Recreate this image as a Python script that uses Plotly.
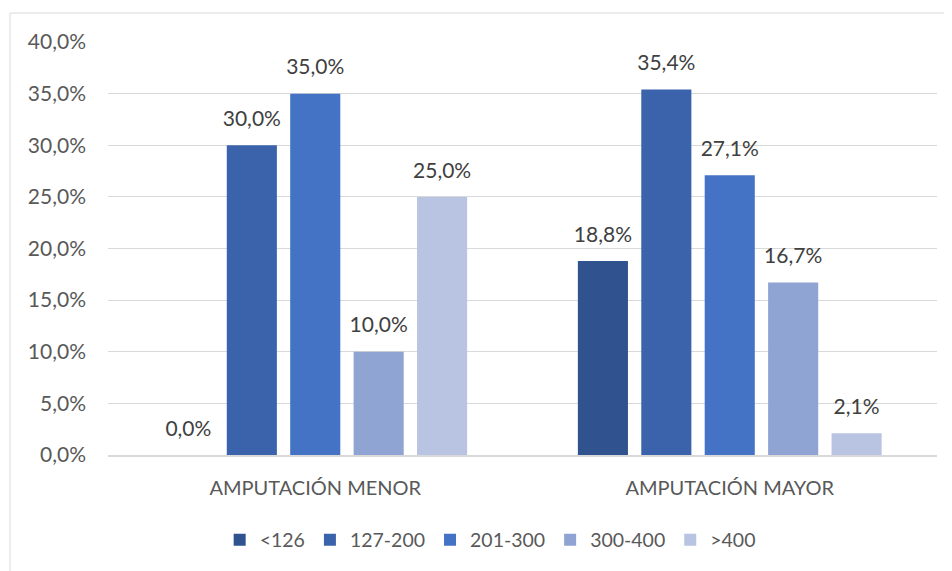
import plotly.graph_objects as go

categories = ["AMPUTACIÓN MENOR", "AMPUTACIÓN MAYOR"]
series_names = ["<126", "127-200", "201-300", "300-400", ">400"]
values = {
    "<126": [0.0, 18.8],
    "127-200": [30.0, 35.4],
    "201-300": [35.0, 27.1],
    "300-400": [10.0, 16.7],
    ">400": [25.0, 2.1],
}
colors = ["#30538f", "#3b63ab", "#4472c4", "#8fa4d3", "#b9c4e2"]
tick_vals = [0, 5, 10, 15, 20, 25, 30, 35, 40]
tick_text = [f"{v:.1f}".replace(".", ",") + "%" for v in tick_vals]

FONT = "Lato, Calibri, sans-serif"

fig = go.Figure()
for name, col in zip(series_names, colors):
    fig.add_trace(go.Bar(
        name=name, x=categories, y=values[name], offsetgroup=name, alignmentgroup="a",
        marker=dict(color=col, line=dict(width=0)),
    ))
for name in series_names:
    fig.add_trace(go.Scatter(
        x=categories, y=values[name], mode="markers+text", offsetgroup=name, alignmentgroup="a",
        marker=dict(size=21, opacity=0),
        texttemplate="%{y:.1f}%", textposition="top center", cliponaxis=False,
        textfont=dict(size=21, color="#404040", family=FONT),
        showlegend=False, hoverinfo="skip",
    ))

fig.update_layout(
    width=952, height=571,
    margin=dict(l=100, r=23, t=34, b=124),
    paper_bgcolor="white", plot_bgcolor="white",
    separators=",.",
    barmode="group", bargap=0.235, bargroupgap=0.21,
    scattermode="group", scattergap=0.235,
    font=dict(family=FONT, size=20, color="#595959"),
    showlegend=True,
    legend=dict(orientation="h", x=0.461, xanchor="center", y=-0.206, yanchor="middle",
                font=dict(size=19.5, color="#595959", family=FONT), traceorder="normal",
                itemwidth=30),
    xaxis=dict(showgrid=False, showline=True, linecolor="#d9d9d9", linewidth=1.5,
               ticks="", tickfont=dict(size=20, color="#595959"), ticklabelstandoff=14),
    yaxis=dict(range=[0, 40], tickvals=tick_vals, ticktext=tick_text,
               showgrid=True, gridcolor="#d9d9d9", gridwidth=1, zeroline=False,
               showline=False, ticks="", tickfont=dict(size=21, color="#595959"),
               ticklabelstandoff=21),
    shapes=[dict(type="rect", xref="paper", yref="paper",
                 x0=-0.1182, x1=1.03, y0=-0.31, y1=1.0702,
                 line=dict(color="#d9d9d9", width=1), fillcolor="rgba(0,0,0,0)", layer="below")],
)

fig.write_html("out.html")
